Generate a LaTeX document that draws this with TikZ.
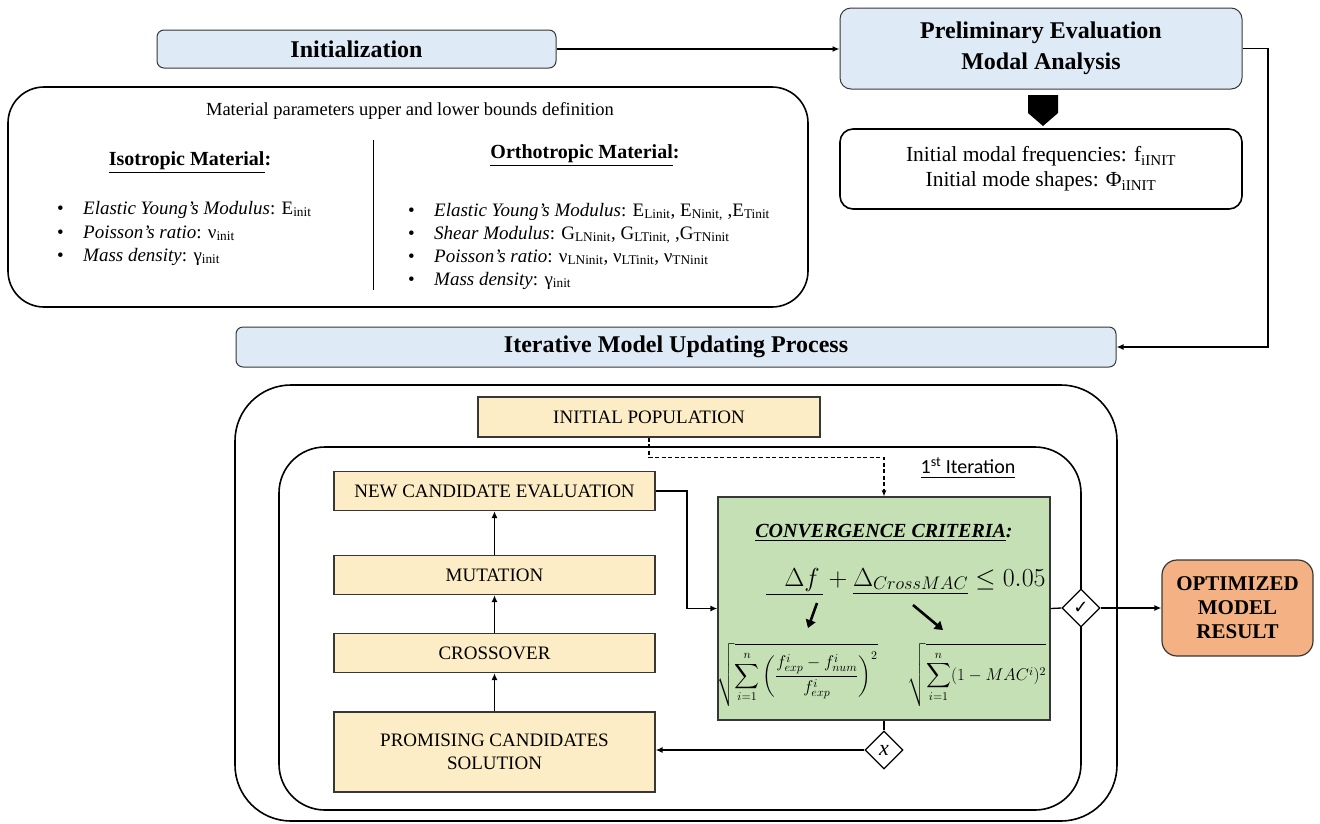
\RequirePackage{fix-cm}
\documentclass[tikz,border=0pt]{standalone}
\usepackage{amsmath}
\usepackage{fontspec}
\setmainfont{Liberation Serif}
\newfontfamily\calib{Carlito}
\newfontfamily\dejavu{DejaVu Sans}
\usetikzlibrary{arrows.meta,shapes.geometric}
\definecolor{blueF}{RGB}{222,234,246}
\definecolor{yelF}{RGB}{253,237,198}
\definecolor{greenF}{RGB}{197,224,180}
\definecolor{orangeF}{RGB}{244,177,131}
\definecolor{edge}{RGB}{55,55,55}
\tikzset{
  bluebox/.style={draw=edge, fill=blueF, rounded corners=7pt, line width=1pt, inner sep=0pt,
    font=\fontsize{24}{31}\selectfont\bfseries, align=center},
  ybox/.style={draw=edge, fill=yelF, line width=1.2pt, inner sep=0pt,
    font=\fontsize{19}{23}\selectfont, align=center, minimum width=321pt, minimum height=39pt},
  wbox/.style={draw=black, line width=1.6pt, inner sep=0pt},
  arr/.style={line width=1.4pt, -{Latex[length=7pt,width=6pt]}},
  fatarr/.style={line width=2.6pt, -{Triangle[length=8pt,width=10pt]}},
  gate/.style={diamond, draw=black, fill=white, line width=1.2pt, inner sep=0pt,
    minimum width=38pt, minimum height=38pt, aspect=1},
  txt/.style={inner sep=0pt, font=\fontsize{19}{23}\selectfont, anchor=base west},
}
\begin{document}
\begin{tikzpicture}[x=1pt,y=-1pt]
\useasboundingbox (0,0) rectangle (1320,823);

% ---------- top row ----------
\node[bluebox, minimum width=399pt, minimum height=38pt] (init) at (356.5,49) {Initialization};
\node[bluebox, rounded corners=11pt, minimum width=402pt, minimum height=81pt] (prelim) at (1041,48.5)
  {Preliminary Evaluation\\Modal Analysis};
\node[wbox, rounded corners=13pt, minimum width=402pt, minimum height=80pt, align=center,
  font=\fontsize{21.5}{25}\selectfont] (modal) at (1041,169)
  {Initial modal frequencies: f\textsubscript{iINIT}\\Initial mode shapes: Φ\textsubscript{iINIT}};
\fill[black] (1028,95) -- (1058,95) -- (1058,113) -- (1043,126) -- (1028,113) -- cycle;

\draw[arr] (init.east) -- (prelim.west |- init.east);

% ---------- initialization content ----------
\node[wbox, rounded corners=36pt, minimum width=800pt, minimum height=220pt] (initbox) at (408,197) {};
\node[inner sep=0pt, font=\fontsize{18.5}{22}\selectfont] (matpar) at (410,111)
  {Material parameters upper and lower bounds definition};
\draw[line width=1pt] (373,140) -- (373,290);

\node[inner sep=0pt, font=\fontsize{20}{24}\selectfont\bfseries] (iso) at (190,163)
  {\underline{Isotropic Material}:};
\node[txt] (i1) at (57,214) {\makebox[26pt][l]{•}\textit{Elastic Young’s Modulus}: E\textsubscript{init}};
\node[txt] (i2) at (57,238) {\makebox[26pt][l]{•}\textit{Poisson’s ratio}: ν\textsubscript{init}};
\node[txt] (i3) at (57,261) {\makebox[26pt][l]{•}\textit{Mass density}: γ\textsubscript{init}};

\node[inner sep=0pt, font=\fontsize{20}{24}\selectfont\bfseries] (ortho) at (585,156)
  {\underline{Orthotropic Material}:};
\node[txt] (o1) at (408,216) {\makebox[26pt][l]{•}\textit{Elastic Young’s Modulus}: E\textsubscript{Linit}, E\textsubscript{Ninit,} ,E\textsubscript{Tinit}};
\node[txt] (o2) at (408,239) {\makebox[26pt][l]{•}\textit{Shear Modulus}: G\textsubscript{LNinit}, G\textsubscript{LTinit,} ,G\textsubscript{TNinit}};
\node[txt] (o3) at (408,262) {\makebox[26pt][l]{•}\textit{Poisson’s ratio}: ν\textsubscript{LNinit}, ν\textsubscript{LTinit}, ν\textsubscript{TNinit}};
\node[txt] (o4) at (408,285) {\makebox[26pt][l]{•}\textit{Mass density}: γ\textsubscript{init}};

% ---------- iterative process ----------
\node[bluebox, minimum width=880pt, minimum height=40pt] (iter) at (676,347) {Iterative Model Updating Process};
\coordinate (c1) at (1268,0);
\draw[arr] (prelim.east) -- (prelim.east -| c1) |- (iter.east);

\node[wbox, rounded corners=56pt, minimum width=882pt, minimum height=436pt] (outer) at (676,603) {};
\node[wbox, rounded corners=46pt, minimum width=802pt, minimum height=363pt] (inner) at (680,628.5) {};

\node[ybox, minimum width=342pt, minimum height=40pt] (pop) at (649,417) {INITIAL POPULATION};
\node[ybox] (newc) at (494.5,491) {NEW CANDIDATE EVALUATION};
\node[ybox] (mut) at (494.5,575) {MUTATION};
\node[ybox] (cross) at (494.5,653) {CROSSOVER};
\node[ybox, minimum height=80pt] (prom) at (494.5,752) {PROMISING CANDIDATES\\SOLUTION};

\node[draw=edge, fill=greenF, line width=1.2pt, minimum width=332pt, minimum height=223pt, inner sep=0pt]
  (green) at (884,608.5) {};

\node[gate] (ok) at (1081,608) {\dejavu\fontsize{18}{18}\selectfont ✓};
\node[gate] (no) at (884,750) {\fontsize{22}{22}\selectfont\textit{x}};

\node[draw=edge, fill=orangeF, line width=1.2pt, rounded corners=15pt, minimum width=151pt,
  minimum height=96pt, inner sep=0pt, align=center, font=\fontsize{21}{24}\selectfont\bfseries]
  (opt) at (1237.5,608) {OPTIMIZED\\MODEL\\RESULT};

% connectors
\draw[arr] (cross.north) -- (mut.south);
\draw[arr] (mut.north) -- (newc.south);
\draw[arr] (prom.north) -- (cross.south);
\coordinate (c2) at (687,0);
\draw[arr] (newc.east) -- (newc.east -| c2) |- (green.west);
\draw[line width=1.3pt, dash pattern=on 4pt off 2.5pt, -{Latex[length=6pt,width=5pt]}]
  (pop.south) -- ++(0,20) -| (green.north);
\node[inner sep=0pt, font=\calib\fontsize{20}{24}\selectfont] (first) at (968,468)
  {\underline{1\textsuperscript{st} Iteration}};
\draw[line width=1.3pt] (green.east) -- (ok.west);
\draw[arr] (ok.east) -- (opt.west);
\draw[line width=1.3pt] (green.south) -- (no.north);
\draw[arr] (no.west) -- (prom.east |- no.west);

% green content
\node[inner sep=0pt, font=\fontsize{20}{24}\selectfont\bfseries\itshape] (cc) at (884,533)
  {\underline{CONVERGENCE CRITERIA}:};
\node[inner sep=0pt] (crit) at (906,582)
  {\fontsize{26}{30}\selectfont $\underline{\hspace{18pt}\Delta f\hspace{3pt}\vphantom{\Delta_{CrossMAC}}} + \underline{\Delta_{CrossMAC}} \leq 0.05$};
\coordinate (a1s) at (817,603);
\coordinate (a1e) at (808,628);
\coordinate (a2s) at (913,605);
\coordinate (a2e) at (943,630);
\draw[fatarr] (a1s) -- (a1e);
\draw[fatarr] (a2s) -- (a2e);
\node[inner sep=0pt] (fl) at (797,675)
  {\fontsize{17}{20}\selectfont $\displaystyle\sqrt{\sum_{i=1}^{n}\left(\frac{f^i_{exp}-f^i_{num}}{f^i_{exp}}\right)^{2}}$};
\node[inner sep=0pt] (fr) at (977,675)
  {\fontsize{17}{20}\selectfont $\displaystyle\sqrt{\sum_{i=1}^{n}(1-MAC^i)^2}$};
\end{tikzpicture}
\end{document}
